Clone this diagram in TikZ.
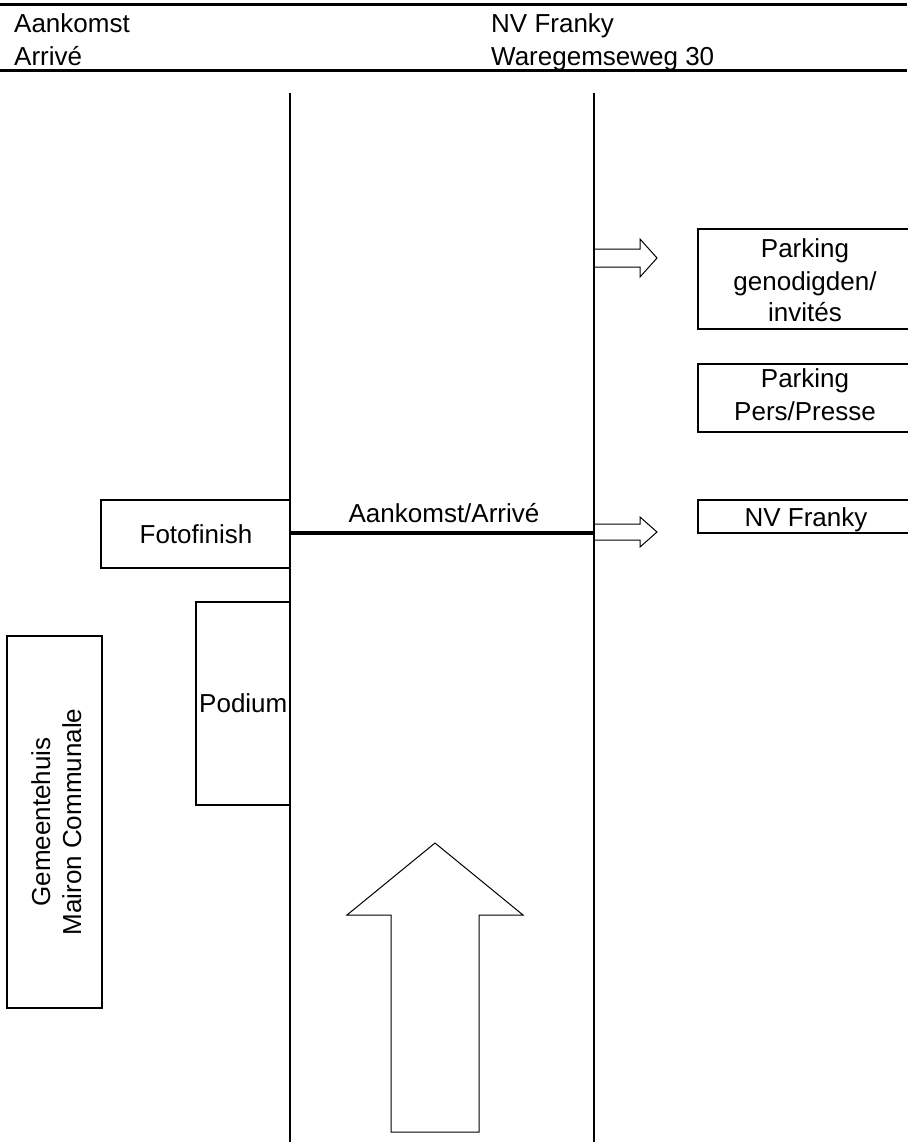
\documentclass[tikz,border=0pt]{standalone}
\usepackage{fontspec}
\setmainfont{Liberation Sans}
\tikzset{
  every node/.style={font=\fontsize{26}{31}\selectfont, inner sep=0pt},
  kader/.style={draw, line width=1.6pt},
  weg/.style={line width=2pt},
  pijl/.style={line width=1pt, line join=miter},
}
\begin{document}
\begin{tikzpicture}[x=1pt, y=-1pt]
\useasboundingbox (0,0) rectangle (907,1142);

% ----------------------------------------------------
% 1. Header
% ----------------------------------------------------
\draw[line width=3pt] (0,5) -- (907,5);
\draw[line width=3pt] (0,71) -- (907,71);
\node[anchor=base west] (hdrA) at (14,33) {Aankomst};
\node[anchor=base west] (hdrB) at (14,66) {Arrivé};
\node[anchor=base west] (hdrC) at (491,33) {NV Franky};
\node[anchor=base west] (hdrD) at (491,66) {Waregemseweg 30};

% ----------------------------------------------------
% 2. Road and finish line
% ----------------------------------------------------
\draw[weg] (290,93) -- (290,1145);
\draw[weg] (594,93) -- (594,1145);

\draw[line width=4pt] (290,533) -- (594,533);
\node[anchor=base] (finish) at (444,522) {Aankomst/Arrivé};

% direction of the race
\draw[pijl] (391,1132) -- (391,915) -- (347,915) -- (435,843) -- (523,915) -- (479,915) -- (479,1132) -- cycle;

% ----------------------------------------------------
% 3. Left side
% ----------------------------------------------------
\draw[kader] (101,500) rectangle (290,568);
\node[anchor=base] (foto) at (196,543) {Fotofinish};

\draw[kader] (196,602) rectangle (290,805);
\node[anchor=base west] (podium) at (199,712) {Podium};

\draw[kader] (7,636) rectangle (102,1008);
\node[anchor=base, rotate=90] (gemA) at (50,822) {Gemeentehuis};
\node[anchor=base, rotate=90] (gemB) at (81,822) {Mairon Communale};

% ----------------------------------------------------
% 4. Right side
% ----------------------------------------------------
\draw[pijl] (594,249) -- (640,249) -- (640,239) -- (657,258) -- (640,277) -- (640,267) -- (594,267);
\draw[pijl] (594,524) -- (640,524) -- (640,517) -- (657,532) -- (640,547) -- (640,540) -- (594,540);

\draw[kader] (698,229) rectangle (915,329);
\node[anchor=base] (parkA) at (805,257) {Parking};
\node[anchor=base] (parkB) at (805,290) {genodigden/};
\node[anchor=base] (parkC) at (805,321) {invités};

\draw[kader] (698,364) rectangle (915,432);
\node[anchor=base] (persA) at (805,387) {Parking};
\node[anchor=base] (persB) at (805,420) {Pers/Presse};

\draw[kader] (698,500) rectangle (915,533);
\node[anchor=base] (franky) at (806,526) {NV Franky};

\end{tikzpicture}
\end{document}
